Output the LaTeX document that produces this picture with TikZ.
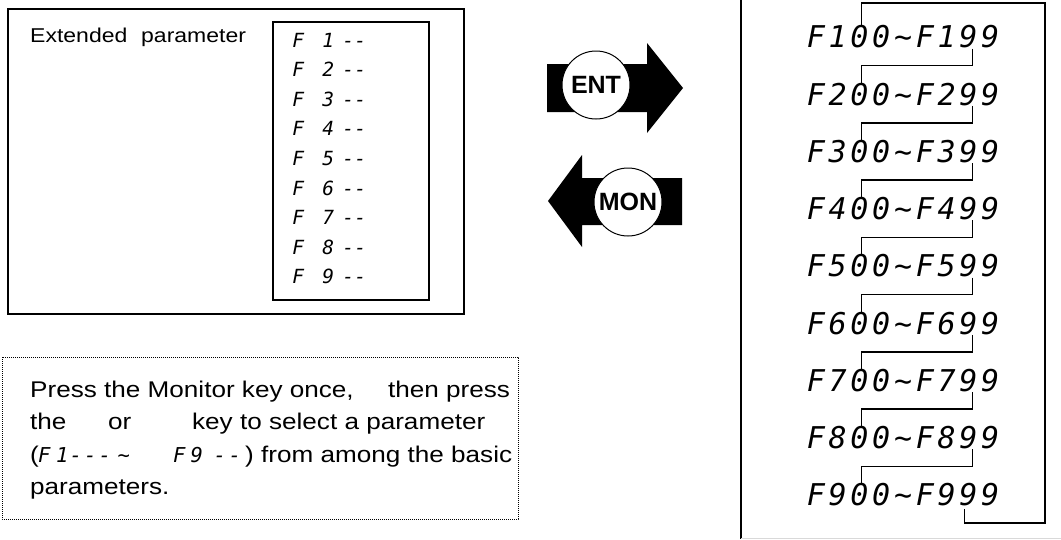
\documentclass[tikz,border=0pt]{standalone}
\usepackage{fontspec}
\setmainfont{Liberation Sans}[FakeStretch=1.15]
\newfontfamily\segfont{DejaVu Sans Mono}
\newfontfamily\keyfont{Liberation Sans}
\usetikzlibrary{calc}
\newcommand{\sg}[2]{\makebox[#1pt]{#2}}
\newcommand{\pc}[2]{\rlap{\hspace*{#1pt}\makebox[0pt]{#2}}}
\newcommand{\tl}{\symbol{126}}
\newcommand{\rrowtext}[1]{\sg{21.8}{F}\sg{21.8}{#1}\sg{21.8}{0}\sg{21.8}{0}\sg{21.8}{\tl}\sg{21.8}{F}\sg{21.8}{#1}\sg{21.8}{9}\sg{21.8}{9}}
\newcommand{\lrowtext}[1]{\pc{15}{F}\pc{45}{#1}\pc{65}{-}\pc{77}{-}\hspace*{85pt}}
\newcommand{\insg}[1]{{\segfont\itshape\fontsize{20.5}{20.5}\selectfont #1}}
\begin{document}
\begin{tikzpicture}[x=1pt,y=-1pt,
  seglbl/.style={inner sep=0, anchor=west, font=\segfont\itshape\fontsize{19.5}{19.5}\selectfont},
  segrow/.style={inner sep=0, anchor=west, font=\segfont\itshape\fontsize{30}{30}\selectfont},
  frame/.style={draw, line width=1.5},
  conn/.style={draw, line width=1.3},
  keycircle/.style={circle, draw, fill=white, line width=1, minimum size=68, inner sep=0, font=\keyfont\bfseries\fontsize{25}{25}\selectfont},
  txt/.style={inner sep=0, anchor=base west, font=\fontsize{22.7}{22.7}\selectfont},
  arrowbody/.style={fill=black}]
\useasboundingbox (0,0) rectangle (1061,539);

% left panel
\draw[frame] (8,9) rectangle (464,314);
\draw[frame] (273,22) rectangle (429,300);
\node[inner sep=0, anchor=base west, font=\fontsize{20}{20}\selectfont] (ext) at (30,42) {\rlap{Extended}\hspace*{111pt}parameter};
\foreach \i in {1,...,9}
  \node[seglbl] (l\i) at (283,{40+29.6*(\i-1)}) {\lrowtext{\i}};

% ENT / MON arrows
\fill[arrowbody] (547,64) -- (647,64) -- (647,43) -- (683,88) -- (647,133) -- (647,112) -- (547,112) -- cycle;
\node[keycircle] (ent) at (596,85) {ENT};
\fill[arrowbody] (682,178) -- (582,178) -- (582,155) -- (548,201) -- (582,247) -- (582,225) -- (682,225) -- cycle;
\node[keycircle] (mon) at (628,202) {MON};

% note box
\draw[dash pattern=on 0.8pt off 1.2pt, line width=0.8] (2,357) rectangle (518,519);
\node[txt] (t1) at (30,397) {\rlap{Press the Monitor key once,}\hspace*{358pt}then press};
\node[txt] (t2) at (30,429.5) {\rlap{the}\hspace*{78pt}\rlap{or}\hspace*{84pt}key to select a parameter};
\node[txt] (t3) at (30,462) {\rlap{(}\insg{\pc{14}{F}\pc{32}{1}\pc{45.5}{-}\pc{60}{-}\pc{74.5}{-}\pc{93.5}{\tl}\pc{149}{F}\pc{166.5}{9}\pc{189.5}{-}\pc{204.5}{-}}\hspace*{215pt}) from among the basic};
\node[txt] (t4) at (30,494.5) {parameters.};

% right panel
\draw[line width=2] (741,0) -- (741,539);
\draw[gray!30, line width=1] (741,538.5) -- (1061,538.5);
\foreach \i in {1,...,9}
  \node[segrow] (r\i) at (804.8,{37+57.25*(\i-1)}) {\rrowtext{\i}};
\foreach \i [evaluate=\i as \j using int(\i+1)] in {1,...,8}
  \draw[conn] ($(r\i.center)+(69.1,11.5)$) |- ($(r\i.center)+(-41.9,28.625)$) -- ($(r\j.center)+(-41.9,-11.5)$);
\coordinate (tr) at (1045,3);
\coordinate (br) at (1045,523);
\draw[conn] ($(r1.center)+(-41.9,-11.5)$) |- (tr) -- (br) -| ($(r9.center)+(61.1,14)$);
\end{tikzpicture}
\end{document}
